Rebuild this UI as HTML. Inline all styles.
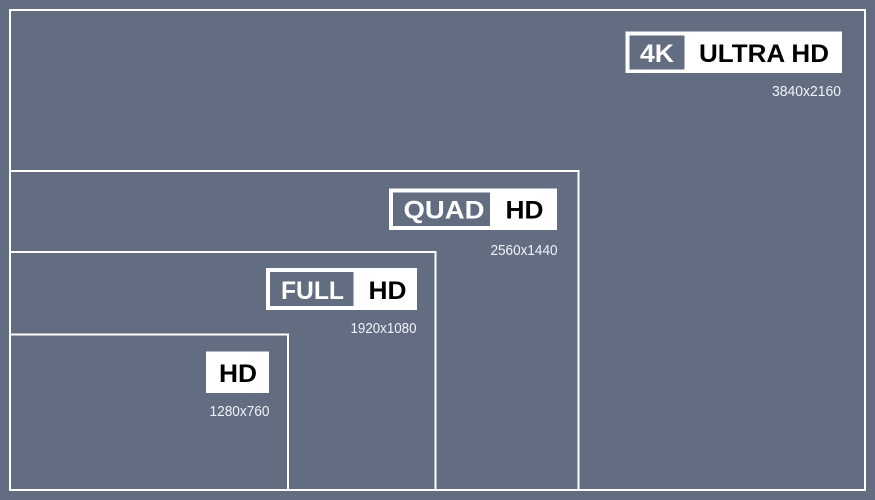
<!DOCTYPE html>
<html>
<head>
<meta charset="utf-8">
<style>
html,body{margin:0;padding:0;width:875px;height:500px;overflow:hidden;background:#626d82}
svg{display:block}
.lbl{font-size:25px;font-weight:bold;font-family:"Liberation Sans",sans-serif;text-anchor:middle}
.res{font-size:14.500px;fill:#f0f2f5;text-anchor:end;font-family:"Liberation Sans",sans-serif}
</style>
</head>
<body>
<svg width="875" height="500" viewBox="0 0 875 500" xmlns="http://www.w3.org/2000/svg">
<rect width="875" height="500" fill="#626d82"/>
<g fill="none" stroke="#ffffff" stroke-width="2">
<rect x="10" y="10" width="855" height="480"/>
<path d="M10 171H578.500V490"/>
<path d="M10 252H435.500V490"/>
<path d="M10 334.500H288V490"/>
</g>

<rect x="625.500" y="31.500" width="216.500" height="41.500" fill="#fff"/>
<rect x="629.500" y="35.500" width="55" height="34" fill="#626d82"/>
<text class="lbl" x="657" y="62" fill="#fff" textLength="34" lengthAdjust="spacingAndGlyphs">4K</text>
<text class="lbl" x="764" y="62" fill="#000" textLength="130" lengthAdjust="spacingAndGlyphs">ULTRA HD</text>
<text class="res" x="841" y="96" textLength="69" lengthAdjust="spacingAndGlyphs">3840x2160</text>

<rect x="389" y="188.500" width="168" height="41.500" fill="#fff"/>
<rect x="393" y="192.500" width="97" height="33.500" fill="#626d82"/>
<text class="lbl" x="444" y="218.500" fill="#fff" textLength="81" lengthAdjust="spacingAndGlyphs">QUAD</text>
<text class="lbl" x="524.500" y="218.500" fill="#000" textLength="38" lengthAdjust="spacingAndGlyphs">HD</text>
<text class="res" x="557.500" y="255" textLength="67" lengthAdjust="spacingAndGlyphs">2560x1440</text>

<rect x="266" y="268" width="151" height="42" fill="#fff"/>
<rect x="270" y="272" width="83.500" height="34" fill="#626d82"/>
<text class="lbl" x="312.500" y="299" fill="#fff" textLength="63" lengthAdjust="spacingAndGlyphs">FULL</text>
<text class="lbl" x="387.500" y="299" fill="#000" textLength="38" lengthAdjust="spacingAndGlyphs">HD</text>
<text class="res" x="416.500" y="333" textLength="66" lengthAdjust="spacingAndGlyphs">1920x1080</text>

<rect x="206" y="351.500" width="63" height="41.500" fill="#fff"/>
<text class="lbl" x="238" y="382" fill="#000" textLength="38" lengthAdjust="spacingAndGlyphs">HD</text>
<text class="res" x="269.500" y="416" textLength="60" lengthAdjust="spacingAndGlyphs">1280x760</text>
</svg>
</body>
</html>
